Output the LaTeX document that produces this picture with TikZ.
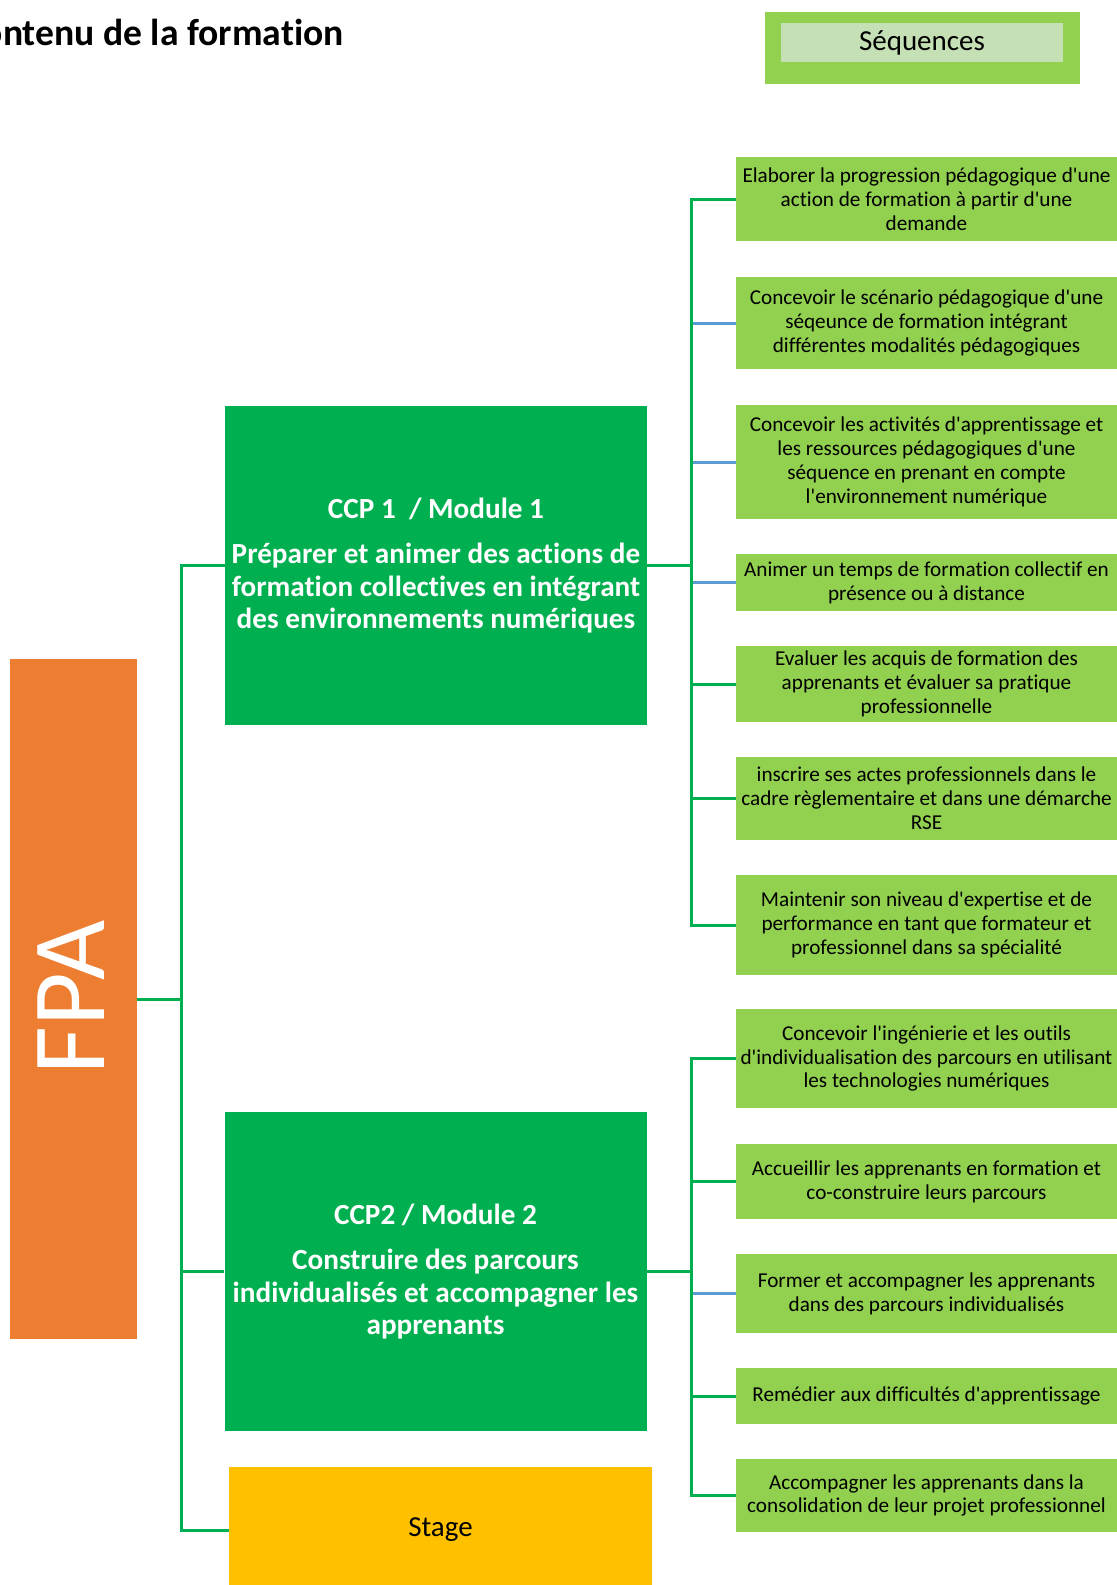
\documentclass[tikz,border=0pt]{standalone}
\usepackage{fontspec}
\setmainfont{Carlito}[Ligatures={TeXOff,NoCommon}]
\usepackage{xcolor}

\definecolor{vertccp}{HTML}{00B050}
\definecolor{vertclair}{HTML}{92D050}
\definecolor{vertpale}{HTML}{C5E0B4}
\definecolor{orangefpa}{HTML}{ED7D31}
\definecolor{jaunestage}{HTML}{FFC000}
\definecolor{bleulien}{HTML}{5B9BD5}

\begin{document}
\begin{tikzpicture}[x=0.5pt, y=-0.5pt,
    seq/.style={fill=vertclair, minimum width=190.5pt, inner sep=0pt, align=center,
        font=\fontsize{10.6}{11.9}\selectfont},
    ccp/.style={fill=vertccp, text=white, minimum width=211pt, minimum height=159.5pt,
        inner sep=0pt, align=center, font=\bfseries\fontsize{14.6}{16.2}\selectfont},
    lien/.style={draw=vertccp, line width=1.5pt},
    lienb/.style={draw=bleulien, line width=1.5pt}]
    \useasboundingbox (0,0) rectangle (1117,1585);

    % Titre et légende
    \node[anchor=base east, inner sep=0pt, font=\bfseries\fontsize{18.8}{22}\selectfont] (titre) at (344,45) {Contenu de la formation};
    \node[fill=vertclair, minimum width=157.5pt, minimum height=36pt, inner sep=0pt] (cadreseq) at (922.5,48) {};
    \node[fill=vertpale, minimum width=141pt, minimum height=19.5pt, inner sep=0pt, font=\fontsize{14.5}{17}\selectfont] (legende) at (922,42.5) {Séquences};

    % Titre professionnel
    \node[fill=orangefpa, minimum width=63.5pt, minimum height=340pt, inner sep=0pt] (fpa) at (73.5,999) {};
    \node[rotate=90, text=white, inner sep=0pt, font=\fontsize{52}{52}\selectfont] (fpatexte) at (71,997) {FPA};

    % Modules
    \node[ccp] (ccpA) at (436,565.5) {CCP 1\ \ / Module 1\\[6.5pt]Préparer et animer des actions de\\formation collectives en intégrant\\des environnements numériques};
    \node[ccp] (ccpB) at (435.5,1271.5) {CCP2 / Module 2\\[6.5pt]Construire des parcours\\individualisés et accompagner les\\apprenants};
    \node[fill=jaunestage, minimum width=211.5pt, minimum height=63pt, inner sep=0pt, font=\fontsize{14.5}{17}\selectfont] (stage) at (440.5,1530) {Stage};

    % Séquences du CCP 1
    \node[seq, minimum height=42pt] (s1) at (926.5,199) {Elaborer la progression pédagogique d'une\\action de formation à partir d'une\\demande};
    \node[seq, minimum height=46pt] (s2) at (926.5,323) {Concevoir le scénario pédagogique d'une\\séqeunce de formation intégrant\\différentes modalités pédagogiques};
    \node[seq, minimum height=57pt] (s3) at (926.5,462) {Concevoir les activités d'apprentissage et\\les ressources pédagogiques d'une\\séquence en prenant en compte\\l'environnement numérique};
    \node[seq, minimum height=28.5pt] (s4) at (926.5,582.5) {Animer un temps de formation collectif en\\présence ou à distance};
    \node[seq, minimum height=38pt] (s5) at (926.5,684) {Evaluer les acquis de formation des\\apprenants et évaluer sa pratique\\professionnelle};
    \node[seq, minimum height=41.5pt] (s6) at (926.5,798.5) {inscrire ses actes professionnels dans le\\cadre règlementaire et dans une démarche\\RSE};
    \node[seq, minimum height=50pt] (s7) at (926.5,925) {Maintenir son niveau d'expertise et de\\performance en tant que formateur et\\professionnel dans sa spécialité};

    % Séquences du CCP 2
    \node[seq, minimum height=49.5pt] (s8) at (926.5,1058.5) {Concevoir l'ingénierie et les outils\\d'individualisation des parcours en utilisant\\les technologies numériques};
    \node[seq, minimum height=37.5pt] (s9) at (926.5,1181.5) {Accueillir les apprenants en formation et\\co-construire leurs parcours};
    \node[seq, minimum height=39.5pt] (s10) at (926.5,1293.5) {Former et accompagner les apprenants\\dans des parcours individualisés};
    \node[seq, minimum height=28pt] (s11) at (926.5,1396) {Remédier aux difficultés d'apprentissage};
    \node[seq, minimum height=36.5pt] (s12) at (926.5,1495.5) {Accompagner les apprenants dans la\\consolidation de leur projet professionnel};

    % Points de branchement
    \coordinate (busF) at (181,999);
    \coordinate (busA) at (691,565.5);
    \coordinate (busB) at (691,1271.5);

    % Liaisons FPA
    \draw[lien] (fpa.east) -- (busF) |- (ccpA.west);
    \draw[lien] (busF) |- (ccpB.west);
    \draw[lien] (busF) |- (stage.west);

    % Liaisons CCP 1
    \draw[lienb] (busA) |- (s2.west);
    \draw[lienb] (busA) |- (s3.west);
    \draw[lienb] (busA) |- (s4.west);
    \draw[lien] (ccpA.east) -- (busA) |- (s1.west);
    \draw[lien] (busA) |- (s5.west);
    \draw[lien] (busA) |- (s6.west);
    \draw[lien] (busA) |- (s7.west);

    % Liaisons CCP 2
    \draw[lienb] (busB) |- (s10.west);
    \draw[lien] (ccpB.east) -- (busB) |- (s8.west);
    \draw[lien] (busB) |- (s9.west);
    \draw[lien] (busB) |- (s11.west);
    \draw[lien] (busB) |- (s12.west);
\end{tikzpicture}
\end{document}
